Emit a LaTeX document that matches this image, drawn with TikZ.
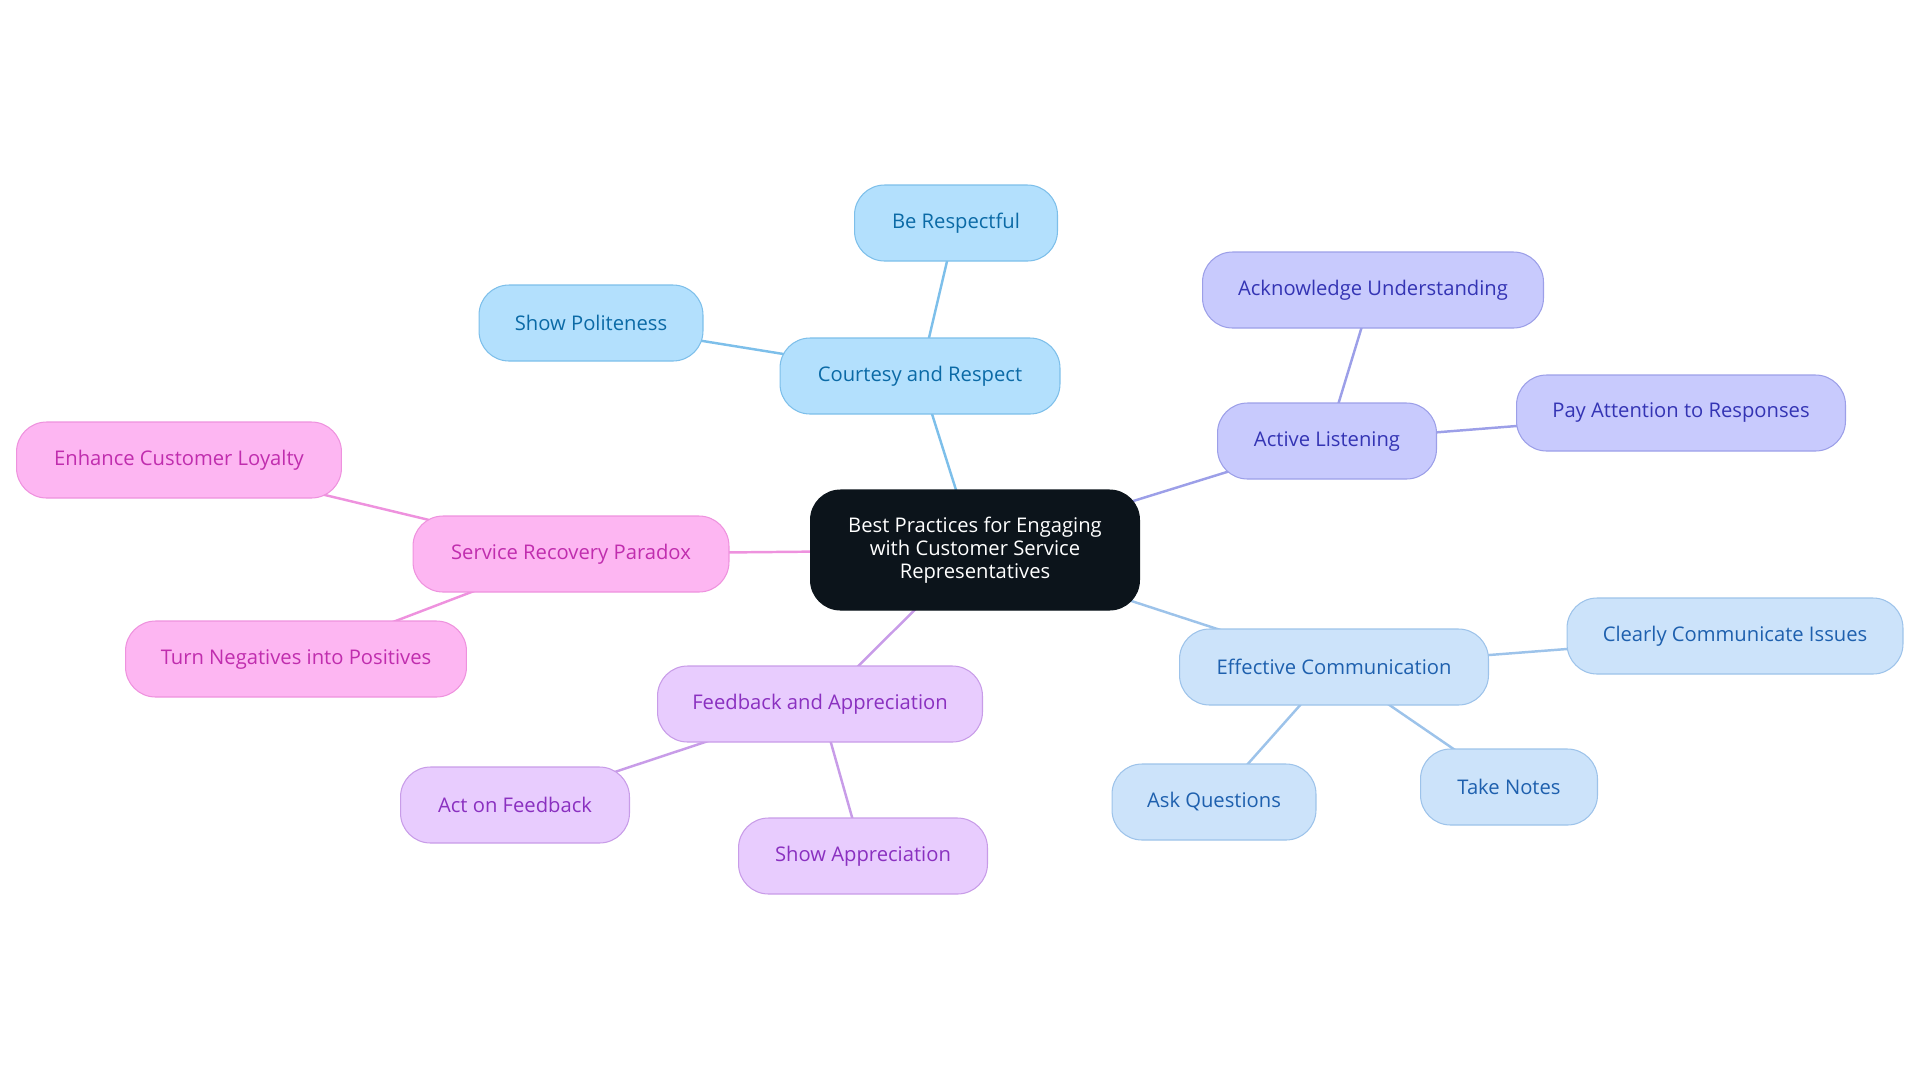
\documentclass[tikz,border=0pt]{standalone}
\usepackage{fontspec}
\setmainfont{Open Sans}
\usepackage{xcolor}
\usepackage{tikz}
\usetikzlibrary{positioning, backgrounds}

\definecolor{rootfill}{HTML}{0C141B}
\definecolor{crfill}{HTML}{B3E0FD}
\definecolor{crline}{HTML}{7DBFEA}
\definecolor{crtext}{HTML}{0B6AA6}
\definecolor{alfill}{HTML}{C8CAFD}
\definecolor{alline}{HTML}{9C9FE8}
\definecolor{altext}{HTML}{3434B4}
\definecolor{ecfill}{HTML}{CCE3FA}
\definecolor{ecline}{HTML}{9DC3EA}
\definecolor{ectext}{HTML}{1E60AE}
\definecolor{fafill}{HTML}{E8CCFE}
\definecolor{faline}{HTML}{C89CE8}
\definecolor{fatext}{HTML}{8A30C0}
\definecolor{srfill}{HTML}{FDB6F2}
\definecolor{srline}{HTML}{EE92DE}
\definecolor{srtext}{HTML}{C02DAE}

\tikzset{
  topicnode/.style={
    rectangle,
    rounded corners=0.6cm,
    line width=0.6pt,
    minimum height=1.52cm,
    inner xsep=2pt,
    align=center,
    font=\fontsize{11.5}{14}\selectfont
  },
  rootnode/.style={
    topicnode,
    fill=rootfill,
    draw=rootfill,
    text=white,
    minimum width=6.58cm,
    minimum height=2.4cm,
    font=\fontsize{11.5}{13}\selectfont
  },
  crnode/.style={topicnode, fill=crfill, draw=crline, text=crtext},
  alnode/.style={topicnode, fill=alfill, draw=alline, text=altext},
  ecnode/.style={topicnode, fill=ecfill, draw=ecline, text=ectext},
  fanode/.style={topicnode, fill=fafill, draw=faline, text=fatext},
  srnode/.style={topicnode, fill=srfill, draw=srline, text=srtext},
  topiclink/.style={line width=1.4pt}
}

\begin{document}
\begin{tikzpicture}[x=0.02cm, y=-0.02cm]
  \useasboundingbox (0,0) rectangle (1920,1083);

  \node[rootnode] (root) at (975,550)
    {Best Practices for Engaging\\with Customer Service\\Representatives};

  % courtesy and respect
  \node[crnode, minimum width=5.6cm] (courtesy) at (920,376) {Courtesy and Respect};
  \node[crnode, minimum width=4.06cm] (respectful) at (956,223) {Be Respectful};
  \node[crnode, minimum width=4.48cm] (polite) at (591,323) {Show Politeness};

  % active listening
  \node[alnode, minimum width=4.38cm] (listening) at (1327,441) {Active Listening};
  \node[alnode, minimum width=6.82cm] (acknowledge) at (1373,290) {Acknowledge Understanding};
  \node[alnode, minimum width=6.58cm] (attention) at (1681,413) {Pay Attention to Responses};

  % effective communication
  \node[ecnode, minimum width=6.18cm] (communication) at (1334,667) {Effective Communication};
  \node[ecnode, minimum width=6.72cm] (issues) at (1735,636) {Clearly Communicate Issues};
  \node[ecnode, minimum width=4.08cm] (questions) at (1214,802) {Ask Questions};
  \node[ecnode, minimum width=3.54cm] (notes) at (1509,787) {Take Notes};

  % feedback and appreciation
  \node[fanode, minimum width=6.5cm] (feedback) at (820,704) {Feedback and Appreciation};
  \node[fanode, minimum width=4.58cm] (actfeedback) at (515,805) {Act on Feedback};
  \node[fanode, minimum width=4.98cm] (appreciation) at (863,856) {Show Appreciation};

  % service recovery paradox
  \node[srnode, minimum width=6.32cm] (recovery) at (571,554) {Service Recovery Paradox};
  \node[srnode, minimum width=6.5cm] (loyalty) at (179,460) {Enhance Customer Loyalty};
  \node[srnode, minimum width=6.82cm] (positives) at (296,659) {Turn Negatives into Positives};

  \begin{scope}[on background layer]
    \draw[topiclink, crline] (root.center) -- (courtesy.center);
    \draw[topiclink, crline] (courtesy.center) -- (respectful.center);
    \draw[topiclink, crline] (courtesy.center) -- (polite.center);
    \draw[topiclink, alline] (root.center) -- (listening.center);
    \draw[topiclink, alline] (listening.center) -- (acknowledge.center);
    \draw[topiclink, alline] (listening.center) -- (attention.center);
    \draw[topiclink, ecline] (root.center) -- (communication.center);
    \draw[topiclink, ecline] (communication.center) -- (issues.center);
    \draw[topiclink, ecline] (communication.center) -- (questions.center);
    \draw[topiclink, ecline] (communication.center) -- (notes.center);
    \draw[topiclink, faline] (root.center) -- (feedback.center);
    \draw[topiclink, faline] (feedback.center) -- (actfeedback.center);
    \draw[topiclink, faline] (feedback.center) -- (appreciation.center);
    \draw[topiclink, srline] (root.center) -- (recovery.center);
    \draw[topiclink, srline] (recovery.center) -- (loyalty.center);
    \draw[topiclink, srline] (recovery.center) -- (positives.center);
  \end{scope}
\end{tikzpicture}
\end{document}
